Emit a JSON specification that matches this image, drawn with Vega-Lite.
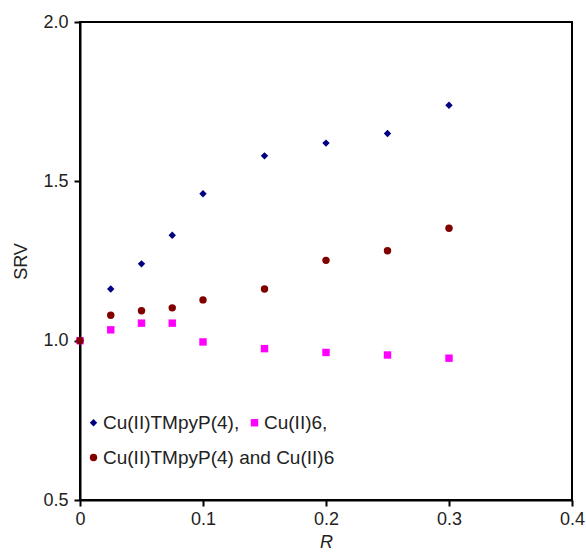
{
  "$schema": "https://vega.github.io/schema/vega-lite/v6.json",
  "width": 492,
  "height": 478,
  "autosize": {"type": "none"},
  "padding": {"left": 80, "top": 22, "right": 14, "bottom": 52},
  "background": "white",
  "config": {
    "font": "Liberation Sans",
    "view": {"stroke": "black", "strokeWidth": 2},
    "axis": {
      "grid": false,
      "domainColor": "black",
      "domainWidth": 2,
      "tickColor": "black",
      "tickWidth": 2,
      "tickSize": 6,
      "labelFontSize": 18,
      "labelColor": "#222",
      "titleFontSize": 18,
      "titleFontWeight": "normal",
      "titleColor": "#222",
      "labelFont": "Liberation Sans",
      "titleFont": "Liberation Sans"
    },
    "legend": {
      "title": null,
      "labelFontSize": 19,
      "labelColor": "#222",
      "labelFont": "Liberation Sans",
      "labelLimit": 400,
      "labelOffset": 0,
      "symbolSize": 55,
      "symbolStrokeWidth": 0,
      "columnPadding": 5,
      "padding": 0
    }
  },
  "data": {
    "values": [
      {"R": 0, "SRV": 1.0, "series": "Cu(II)TMpyP(4)"},
      {"R": 0.025, "SRV": 1.162, "series": "Cu(II)TMpyP(4)"},
      {"R": 0.05, "SRV": 1.241, "series": "Cu(II)TMpyP(4)"},
      {"R": 0.075, "SRV": 1.331, "series": "Cu(II)TMpyP(4)"},
      {"R": 0.1, "SRV": 1.461, "series": "Cu(II)TMpyP(4)"},
      {"R": 0.15, "SRV": 1.58, "series": "Cu(II)TMpyP(4)"},
      {"R": 0.2, "SRV": 1.62, "series": "Cu(II)TMpyP(4)"},
      {"R": 0.25, "SRV": 1.65, "series": "Cu(II)TMpyP(4)"},
      {"R": 0.3, "SRV": 1.739, "series": "Cu(II)TMpyP(4)"},
      {"R": 0, "SRV": 1.0, "series": "Cu(II)6"},
      {"R": 0.025, "SRV": 1.034, "series": "Cu(II)6"},
      {"R": 0.05, "SRV": 1.055, "series": "Cu(II)6"},
      {"R": 0.075, "SRV": 1.055, "series": "Cu(II)6"},
      {"R": 0.1, "SRV": 0.996, "series": "Cu(II)6"},
      {"R": 0.15, "SRV": 0.975, "series": "Cu(II)6"},
      {"R": 0.2, "SRV": 0.963, "series": "Cu(II)6"},
      {"R": 0.25, "SRV": 0.955, "series": "Cu(II)6"},
      {"R": 0.3, "SRV": 0.945, "series": "Cu(II)6"},
      {"R": 0, "SRV": 1.0, "series": "Cu(II)TMpyP(4) and Cu(II)6"},
      {"R": 0.025, "SRV": 1.08, "series": "Cu(II)TMpyP(4) and Cu(II)6"},
      {"R": 0.05, "SRV": 1.094, "series": "Cu(II)TMpyP(4) and Cu(II)6"},
      {"R": 0.075, "SRV": 1.103, "series": "Cu(II)TMpyP(4) and Cu(II)6"},
      {"R": 0.1, "SRV": 1.128, "series": "Cu(II)TMpyP(4) and Cu(II)6"},
      {"R": 0.15, "SRV": 1.162, "series": "Cu(II)TMpyP(4) and Cu(II)6"},
      {"R": 0.2, "SRV": 1.252, "series": "Cu(II)TMpyP(4) and Cu(II)6"},
      {"R": 0.25, "SRV": 1.282, "series": "Cu(II)TMpyP(4) and Cu(II)6"},
      {"R": 0.3, "SRV": 1.353, "series": "Cu(II)TMpyP(4) and Cu(II)6"}
    ]
  },
  "encoding": {
    "x": {
      "field": "R",
      "type": "quantitative",
      "scale": {"domain": [0, 0.4], "nice": false, "zero": false},
      "axis": {
        "title": "R",
        "titleFontStyle": "italic",
        "values": [0, 0.1, 0.2, 0.3, 0.4],
        "labelExpr": "datum.value == 0 ? '0' : format(datum.value, '.1f')",
        "labelPadding": 4,
        "titlePadding": 5,
        "labelFlush": false
      }
    },
    "y": {
      "field": "SRV",
      "type": "quantitative",
      "scale": {"domain": [0.5, 2.0], "nice": false, "zero": false},
      "axis": {
        "title": "SRV",
        "values": [0.5, 1.0, 1.5, 2.0],
        "format": ".1f",
        "labelPadding": 6,
        "titlePadding": 12,
        "labelFlush": false
      }
    }
  },
  "layer": [
    {
      "transform": [{"filter": "datum.series != 'Cu(II)TMpyP(4) and Cu(II)6'"}],
      "mark": {"type": "point", "filled": true, "opacity": 1, "size": 55},
      "encoding": {
        "color": {
          "field": "series",
          "type": "nominal",
          "scale": {
            "domain": ["Cu(II)TMpyP(4)", "Cu(II)6"],
            "range": ["#000080", "#ff00ff"]
          },
          "legend": {
            "orient": "none",
            "legendX": 4,
            "legendY": 391,
            "direction": "horizontal",
            "labelExpr": "datum.label + ','"
          }
        },
        "shape": {
          "field": "series",
          "type": "nominal",
          "scale": {
            "domain": ["Cu(II)TMpyP(4)", "Cu(II)6"],
            "range": ["diamond", "square"]
          },
          "legend": null
        }
      }
    },
    {
      "transform": [{"filter": "datum.series == 'Cu(II)TMpyP(4) and Cu(II)6'"}],
      "mark": {"type": "point", "filled": true, "opacity": 1, "size": 55, "shape": "circle"},
      "encoding": {
        "fill": {
          "field": "series",
          "type": "nominal",
          "scale": {
            "domain": ["Cu(II)TMpyP(4) and Cu(II)6"],
            "range": ["#800000"]
          },
          "legend": {
            "orient": "none",
            "legendX": 4,
            "legendY": 426,
            "direction": "horizontal"
          }
        }
      }
    }
  ]
}
